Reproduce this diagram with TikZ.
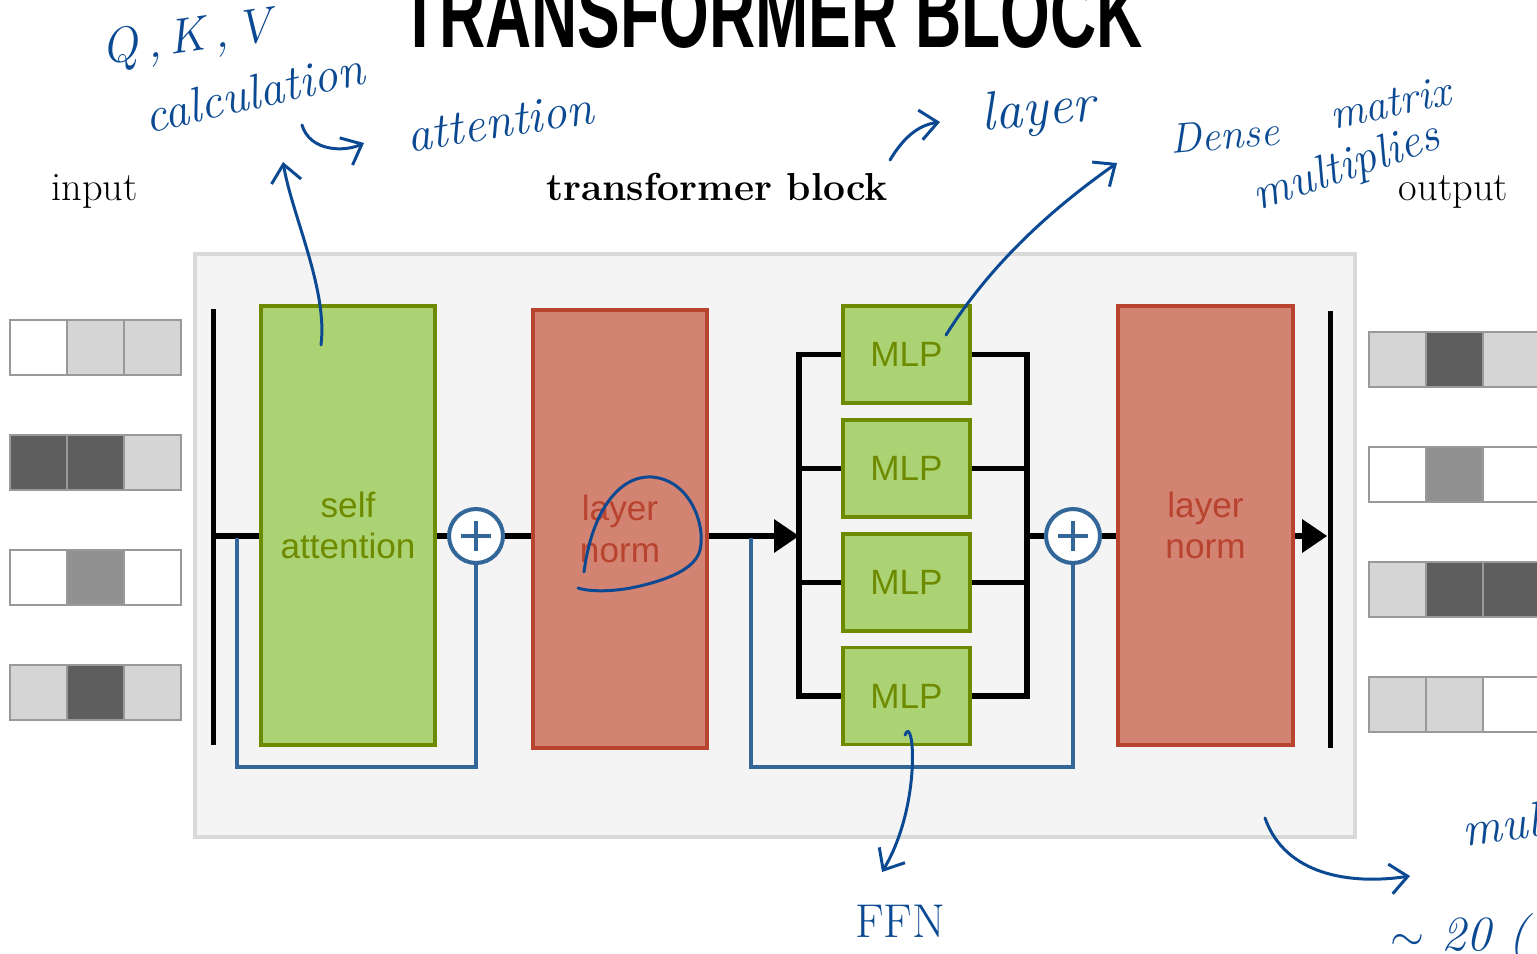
\documentclass[tikz,border=0pt]{standalone}
\usepackage{fontspec}
\newfontfamily\boxfont{Liberation Sans}
\usetikzlibrary{arrows.meta, positioning}

\definecolor{attngreen}{HTML}{ACD373}
\definecolor{attnedge}{HTML}{6E8B00}
\definecolor{normred}{HTML}{D38371}
\definecolor{normedge}{HTML}{B8432F}
\definecolor{resblue}{HTML}{336699}
\definecolor{inkblue}{HTML}{0B4A93}
\definecolor{blockbg}{HTML}{F4F4F4}
\definecolor{blockedge}{HTML}{D9D9D9}
\definecolor{tedge}{HTML}{999999}
\definecolor{tlight}{HTML}{D5D5D5}
\definecolor{tmid}{HTML}{919191}
\definecolor{tdark}{HTML}{5E5E5E}

\begin{document}
\begin{tikzpicture}[
  x=0.02cm, y=-0.02cm,
  node distance=0.26cm,
  box/.style={rectangle, line width=2.2pt, align=center, inner sep=0pt,
              font=\boxfont\fontsize{20}{23.5}\selectfont},
  attnbox/.style={box, draw=attnedge, fill=attngreen, text=attnedge,
                  minimum width=3.48cm, minimum height=8.78cm},
  normbox/.style={box, draw=normedge, fill=normred, text=normedge,
                  minimum width=3.48cm, minimum height=8.76cm},
  mlpbox/.style={box, draw=attnedge, fill=attngreen, text=attnedge,
                 minimum width=2.54cm, minimum height=1.94cm},
  addnode/.style={circle, draw=resblue, fill=white, line width=2.3pt,
                  minimum size=1.08cm, inner sep=0pt},
  bar/.style={rectangle, fill=black, inner sep=0pt,
              minimum width=0.1cm, minimum height=8.72cm},
  tile/.style={rectangle, draw=tedge, line width=1.6pt, inner sep=0pt,
               minimum width=1.14cm, minimum height=1.1cm},
  wire/.style={line width=2.9pt},
  skip/.style={draw=resblue, line width=2.5pt},
  arrow/.style={wire, -{Triangle[length=5mm, width=6.5mm]}},
  label/.style={anchor=base, font=\fontsize{23}{26}\selectfont},
  ink/.style={draw=inkblue, line width=1.7pt, line cap=round},
  inkarrow/.style={ink, -{Straight Barb[length=3.5mm, width=6mm]}},
  note/.style={text=inkblue, inner sep=0pt, font=\itshape\fontsize{28}{30}\selectfont}
]
\useasboundingbox (0,0) rectangle (1537,953);
\clip (0,0) rectangle (1537,953);

% title and headings
\node[anchor=base, xscale=0.65, font=\boxfont\bfseries\fontsize{56}{58}\selectfont] (title) at (771.5,48) {TRANSFORMER BLOCK};
\node[label] (inlabel) at (94.5,200) {input};
\node[label, font=\bfseries\fontsize{22.2}{26}\selectfont] (blocklabel) at (717,200) {transformer block};
\node[label] (outlabel) at (1453.5,200) {output};

% block background
\node[fill=blockbg, draw=blockedge, line width=2.3pt, minimum width=23.2cm, minimum height=11.66cm] (block) at (775,545.5) {};

% input / output tokens
\foreach \r/\ca/\cb/\cc in {0/white/tlight/tlight, 1/tdark/tdark/tlight, 2/white/tmid/white, 3/tlight/tdark/tlight}{
  \node[tile, fill=\ca] (in\r a) at (38.5,{347.5+115*\r}) {};
  \node[tile, fill=\cb] (in\r b) at (95.5,{347.5+115*\r}) {};
  \node[tile, fill=\cc] (in\r c) at (152.5,{347.5+115*\r}) {};
}
\foreach \r/\ca/\cb/\cc in {0/tlight/tdark/tlight, 1/white/tmid/white, 2/tlight/tdark/tdark, 3/tlight/tlight/white}{
  \node[tile, fill=\ca] (out\r a) at (1397.5,{359.5+115*\r}) {};
  \node[tile, fill=\cb] (out\r b) at (1454.5,{359.5+115*\r}) {};
  \node[tile, fill=\cc] (out\r c) at (1511.5,{359.5+115*\r}) {};
}

% layers
\node[bar] (inbar) at (213,527) {};
\node[attnbox] (attn) at (348,525.5) {self\\attention};
\node[addnode] (add1) at (476,536) {};
\node[normbox] (norm1) at (620,529) {layer\\norm};
\node[mlpbox] (mlp1) at (906.5,354.5) {MLP};
\node[mlpbox, below=of mlp1] (mlp2) {MLP};
\node[mlpbox, below=of mlp2] (mlp3) {MLP};
\node[mlpbox, below=of mlp3] (mlp4) {MLP};
\node[addnode] (add2) at (1073,536) {};
\node[normbox, minimum width=3.5cm, minimum height=8.78cm] (norm2) at (1205.5,525.5) {layer\\norm};
\node[bar, minimum height=8.74cm] (outbar) at (1330,529.5) {};

\coordinate (fanin) at (799,536);
\coordinate (fanout) at (1027,536);
\coordinate (tap1) at (237,538);
\coordinate (tap2) at (751,538);

% plus signs
\foreach \a in {add1, add2}{
  \draw[skip] ([xshift=-0.3cm]\a.center) -- ([xshift=0.3cm]\a.center);
  \draw[skip] ([yshift=-0.3cm]\a.center) -- ([yshift=0.3cm]\a.center);
}

% main path
\draw[wire] (inbar.center |- add1) -- (attn.west |- add1);
\draw[wire] (attn.east |- add1) -- (add1);
\draw[wire] (add1) -- (norm1.west |- add1);
\draw[arrow] (norm1.east |- add1) -- (fanin);
\draw[wire] (mlp1.west) -| (fanin) |- (mlp4.west);
\draw[wire] (mlp1.east) -| (fanout) |- (mlp4.east);
\foreach \m in {2,3}{
  \draw[wire] (fanin |- mlp\m) -- (mlp\m.west);
  \draw[wire] (mlp\m.east) -- (fanout |- mlp\m);
}
\draw[wire] (fanout) -- (add2);
\draw[wire] (add2) -- (norm2.west |- add2);
\draw[arrow] (norm2.east |- add2) -- (outbar.west |- add2);

% residual connections
\draw[skip] (tap1) -- ++(0,229) -| (add1.south);
\draw[skip] (tap2) -- ++(0,229) -| (add2.south);

% handwritten notes
\node[note, rotate=8] (qkv) at (187,40) {Q\,,\,K\,,\,V};
\node[note, rotate=13] (calc) at (254,92) {calculation};
\node[note, rotate=9] (attnnote) at (500,122) {attention};
\node[note, rotate=5, font=\itshape\fontsize{31}{33}\selectfont] (layernote) at (1038,112) {layer};
\node[note, rotate=5, font=\itshape\fontsize{24}{26}\selectfont] (dense) at (1225,135) {Dense};
\node[note, rotate=12, font=\itshape\fontsize{25}{27}\selectfont] (matrix) at (1390,103) {matrix};
\node[note, rotate=19, font=\itshape\fontsize{27}{29}\selectfont] (mults) at (1347,168) {multiplies};
\node[note, font=\upshape\fontsize{27}{29}\selectfont] (ffn) at (900,921) {FFN};
\node[note, anchor=west, rotate=8] (mulnote) at (1462,830) {mul};
\node[note, anchor=west] (approx) at (1390,938) {$\sim$ 20 (};

\coordinate (attnpin) at (321,345);
\coordinate (qkvtip) at (283,162);
\coordinate (mlppin) at (946,335);
\coordinate (densetip) at (1117,163);
\coordinate (ffnpin) at (905,735);
\coordinate (ffntip) at (882,872);
\coordinate (blockpin) at (1265,818);
\coordinate (multip) at (1410,876);

\draw[inkarrow] (attnpin) .. controls (328,290) and (292,215) .. (qkvtip);
\draw[inkarrow] (302,125) .. controls (310,152) and (345,152) .. (364,143);
\draw[inkarrow] (890,160) .. controls (905,135) and (920,125) .. (940,122);
\draw[inkarrow] (mlppin) .. controls (990,265) and (1050,210) .. (densetip);
\draw[inkarrow] (ffnpin) .. controls (914,712) and (922,805) .. (ffntip);
\draw[inkarrow] (blockpin) .. controls (1285,875) and (1350,885) .. (multip);
\draw[ink] (584,572) .. controls (592,510) and (620,475) .. (652,477)
  .. controls (690,480) and (706,525) .. (700,550)
  .. controls (695,570) and (665,580) .. (640,586)
  .. controls (615,592) and (590,592) .. (578,588);
\end{tikzpicture}
\end{document}
